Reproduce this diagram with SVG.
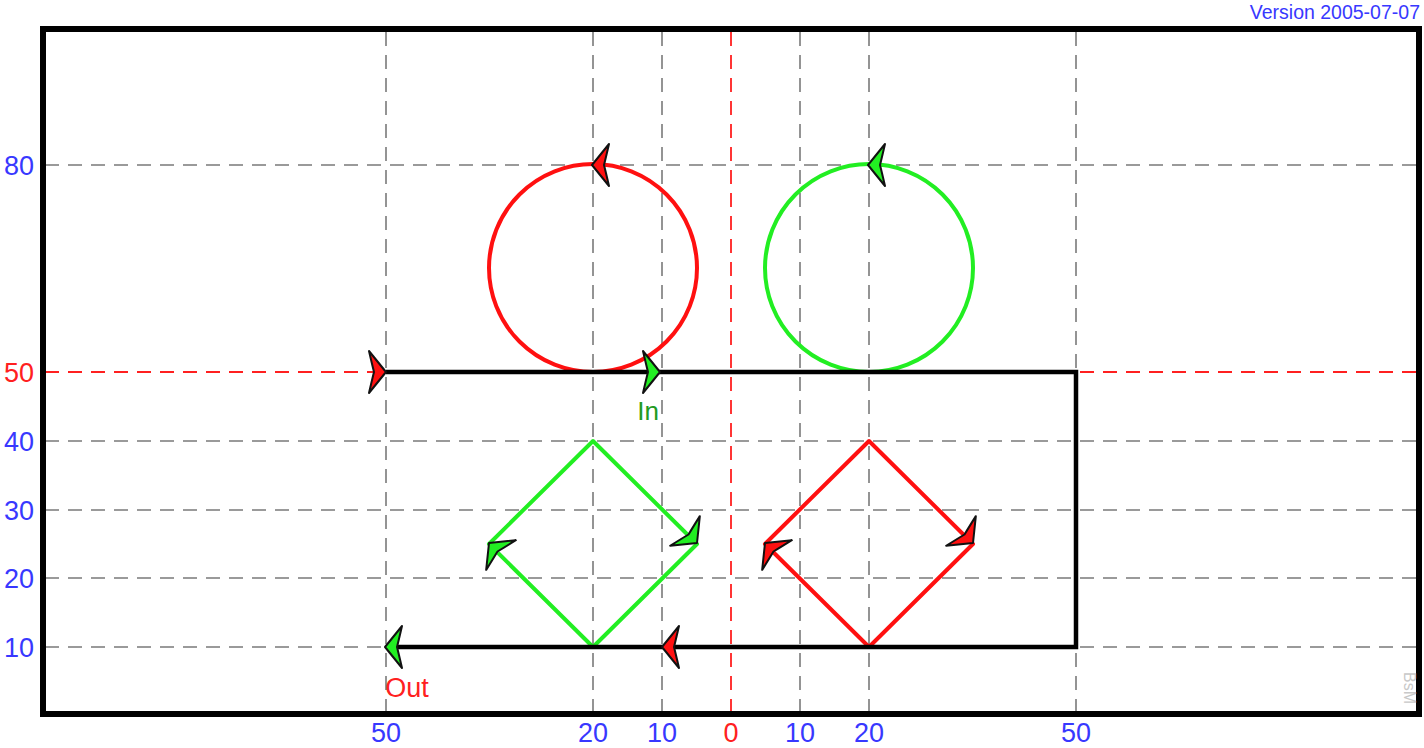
<svg xmlns="http://www.w3.org/2000/svg" xmlns:xlink="http://www.w3.org/1999/xlink" width="1424" height="748" viewBox="0 0 1424 748">
<style>
.grid{stroke:#7a7a7a;stroke-width:1.6;stroke-dasharray:14 9;fill:none}
.gridr{stroke:#ff2020;stroke-width:1.8;stroke-dasharray:14 9;fill:none}
.lbl{font-family:"Liberation Sans",Arial,sans-serif;font-size:27px;fill:#3838ff}
.red{fill:#ff2020}
.shape{fill:none;stroke-width:4}
.arrow{stroke:#111;stroke-width:2;stroke-linejoin:round}
</style>
<defs>
<path id="arr" d="M0,0 L-17,-21 Q-14,-8 -12,0 Q-14,8 -17,21 Z"/>
</defs>
<rect x="0" y="0" width="1424" height="748" fill="#fff"/>
<g id="grid">
<path class="grid" d="M45,165H1416M45,441H1416M45,510H1416M45,578H1416M45,647H1416"/>
<path class="grid" d="M386,32V711M593,32V711M662,32V711M800,32V711M869,32V711M1076,32V711"/>
<path class="gridr" d="M45,372H1416M731,32V711"/>
</g>
<g id="frame">
<rect x="43" y="29" width="1376" height="685" fill="none" stroke="#000" stroke-width="6"/>
</g>
<g id="red-circle"><circle class="shape" cx="593" cy="268" r="104" stroke="#ff1010"/></g>
<g id="green-circle"><circle class="shape" cx="869" cy="268" r="104" stroke="#22ee22"/></g>
<g id="green-diamond"><path class="shape" d="M593,441 L697,544 L593,647 L489,544 Z" stroke="#22ee22" stroke-linejoin="round"/></g>
<g id="red-diamond"><path class="shape" d="M869,441 L973,544 L869,647 L765,544 Z" stroke="#ff1010" stroke-linejoin="round"/></g>
<g id="connectors">
<path d="M386,372 H1076 V647 H390" fill="none" stroke="#000" stroke-width="4.5"/>
</g>
<g id="arrows" class="arrow">
<use xlink:href="#arr" transform="translate(386,372)" fill="#ff1010"/>
<use xlink:href="#arr" transform="translate(660,372)" fill="#22ee22"/>
<use xlink:href="#arr" transform="translate(592,165) rotate(180)" fill="#ff1010"/>
<use xlink:href="#arr" transform="translate(868,165) rotate(180)" fill="#22ee22"/>
<use xlink:href="#arr" transform="translate(697,543) rotate(45)" fill="#22ee22"/>
<use xlink:href="#arr" transform="translate(489,543) rotate(225)" fill="#22ee22"/>
<use xlink:href="#arr" transform="translate(973,543) rotate(45)" fill="#ff1010"/>
<use xlink:href="#arr" transform="translate(765,543) rotate(225)" fill="#ff1010"/>
<use xlink:href="#arr" transform="translate(662,647) rotate(180)" fill="#ff1010"/>
<use xlink:href="#arr" transform="translate(385,647) rotate(180)" fill="#22ee22"/>
</g>
<g id="y-labels" class="lbl" text-anchor="end">
<text x="34" y="175">80</text>
<text x="34" y="382" class="red">50</text>
<text x="34" y="451">40</text>
<text x="34" y="520">30</text>
<text x="34" y="588">20</text>
<text x="34" y="657">10</text>
</g>
<g id="x-labels" class="lbl" text-anchor="middle">
<text x="386" y="742">50</text>
<text x="593" y="742">20</text>
<text x="662" y="742">10</text>
<text x="731" y="742" class="red">0</text>
<text x="800" y="742">10</text>
<text x="869" y="742">20</text>
<text x="1076" y="742">50</text>
</g>
<g id="texts" font-family="Liberation Sans, Arial, sans-serif">
<text x="648" y="420" font-size="26" fill="#229a22" text-anchor="middle">In</text>
<text x="407" y="697" font-size="27" fill="#ff2020" text-anchor="middle">Out</text>
<text x="1420" y="19" font-size="19.5" fill="#3838ff" text-anchor="end">Version 2005-07-07</text>
<text x="1404" y="688" font-size="16" fill="#c8c8c8" text-anchor="middle" transform="rotate(90 1404 688)">BsM</text>
</g>
</svg>
